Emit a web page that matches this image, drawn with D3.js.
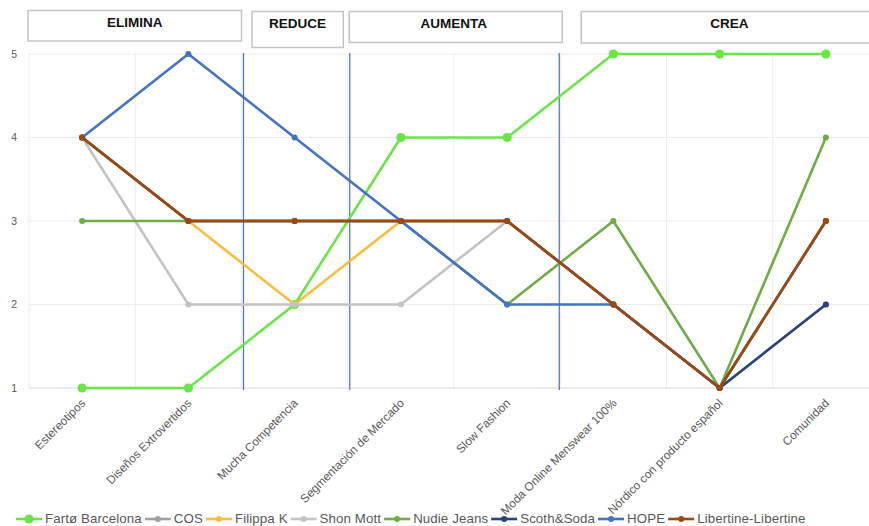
<!DOCTYPE html>
<html><head><meta charset="utf-8">
<script src="https://cdn.jsdelivr.net/npm/d3@7"></script>
<style>
html,body{margin:0;padding:0;background:#fff;}
svg{display:block;font-family:"Liberation Sans",Arial,sans-serif;}
</style></head>
<body>
<svg id="c" width="869" height="526"></svg>
<script>
// ---- data ----
const categories = ["Estereotipos","Diseños Extrovertidos","Mucha Competencia","Segmentación de Mercado","Slow Fashion","Moda Online Menswear 100%","Nórdico con producto español","Comunidad"];
const seriesNames = ["Fartø Barcelona","COS","Filippa K","Shon Mott","Nudie Jeans","Scoth&Soda","HOPE","Libertine-Libertine"];
const fartoBarcelona     = [1,1,2,4,4,5,5,5];
const cos                = [4,3,3,3,3,2,1,3];
const filippaK           = [4,3,2,3,3,2,1,3];
const shonMott           = [4,2,2,2,3,2,1,2];
const nudieJeans         = [3,3,3,3,2,3,1,4];
const scothSoda          = [4,3,3,3,3,2,1,2];
const hope               = [4,5,4,3,2,2,1,3];
const libertine          = [4,3,3,3,3,2,1,3];
const yTicks = [1,2,3,4,5];
const groupNames = ["ELIMINA","REDUCE","AUMENTA","CREA"];
const groupStart = [0,2,3,5];
const groupEnd   = [1,2,4,7];
const separatorsAfter = [1,2,4];

// ---- style ----
const colors = ["#69e645","#a0a0a0","#fbbd3e","#c3c3c3","#6fac46","#26447a","#4472c4","#9e480e"];
const markerR = [4.6,3,3,3,3,3,3,3];
const values = [fartoBarcelona,cos,filippaK,shonMott,nudieJeans,scothSoda,hope,libertine];

const svg = d3.select("#c");
const x = d3.scaleBand().domain(categories).range([29,879]).paddingInner(0).paddingOuter(0);
const y = d3.scaleLinear().domain([1,5]).range([388,54]);
const cx = c => x(c) + x.bandwidth()/2;

// gridlines
const g = svg.append("g");
g.selectAll("line.h").data(yTicks.filter(t=>t>1)).join("line")
  .attr("x1",29).attr("x2",879).attr("y1",d=>y(d)).attr("y2",d=>y(d))
  .attr("stroke","#ececec").attr("stroke-width",1);
const bounds = categories.map(c=>x(c));
g.selectAll("line.v").data(bounds).join("line")
  .attr("x1",d=>d).attr("x2",d=>d).attr("y1",y(5)).attr("y2",y(1))
  .attr("stroke","#ececec").attr("stroke-width",1);
g.append("line").attr("x1",29).attr("x2",879).attr("y1",y(1)).attr("y2",y(1))
  .attr("stroke","#d9d9d9").attr("stroke-width",1.2);

// y axis labels
const yAxis = d3.axisLeft(y).tickValues(yTicks).tickSize(0).tickPadding(0).tickFormat(d3.format("d"));
const ya = svg.append("g").attr("transform","translate(17,0)").call(yAxis);
ya.select(".domain").remove();
ya.selectAll("text").attr("font-size",10.5).attr("fill","#595959").attr("font-family","'Liberation Sans',Arial,sans-serif");

// x axis labels
const xAxis = d3.axisBottom(x).tickSize(0).tickPadding(0);
const xa = svg.append("g").attr("transform","translate(0,396)").call(xAxis);
xa.select(".domain").remove();
xa.selectAll("text")
  .attr("font-size",11.8).attr("fill","#595959").attr("font-family","'Liberation Sans',Arial,sans-serif")
  .attr("text-anchor","end").attr("dy","0.35em").attr("y",0).attr("x",0)
  .attr("transform","translate(1,5) rotate(-45)");

// separators (blue vertical lines)
const sepOff = [2,2,-1];
svg.selectAll("line.sep").data(separatorsAfter).join("line")
  .attr("x1",(d,i)=>x(categories[d])+x.bandwidth()+sepOff[i])
  .attr("x2",(d,i)=>x(categories[d])+x.bandwidth()+sepOff[i])
  .attr("y1",y(5)-1).attr("y2",y(1)+2)
  .attr("stroke","#4472c4").attr("stroke-width",1.2);

// group header boxes
const boxAdj = [[-1,0,10.5,41],[10.5,-4.5,11.5,47.5],[1.5,2,11.5,42.5],[21,-1,11.5,43]];
const hdr = svg.append("g");
groupNames.forEach((n,i)=>{
  const x0 = x(categories[groupStart[i]]) + boxAdj[i][0];
  const x1 = x(categories[groupEnd[i]]) + x.bandwidth() + boxAdj[i][1];
  hdr.append("rect").attr("x",x0).attr("y",boxAdj[i][2]).attr("width",x1-x0).attr("height",boxAdj[i][3]-boxAdj[i][2])
    .attr("fill","#fff").attr("stroke","#c4c4c4").attr("stroke-width",1.5);
  const tx = i===2 ? (x0+x1)/2-2 : (i===3 ? 729.5 : (x0+x1)/2);
  hdr.append("text").attr("x",tx).attr("y",boxAdj[i][2]+16.5).attr("text-anchor","middle")
    .attr("font-size",13.5).attr("font-weight","bold").attr("fill","#111").text(n);
});

// series
const line = d3.line().defined(d=>d[1]!=null).x(d=>cx(d[0])).y(d=>y(d[1]));
values.forEach((vals,i)=>{
  const pts = categories.map((c,j)=>[c,vals[j]]);
  const sg = svg.append("g");
  sg.append("path").datum(pts).attr("d",line).attr("fill","none")
    .attr("stroke",colors[i]).attr("stroke-width",2.6).attr("stroke-linejoin","round");
  sg.selectAll("circle").data(pts.filter(p=>p[1]!=null)).join("circle")
    .attr("cx",p=>cx(p[0])).attr("cy",p=>y(p[1])).attr("r",markerR[i]).attr("fill",colors[i]);
});

// legend
const leg = svg.append("g").attr("transform","translate(0,519)");
let lx = 16;
seriesNames.forEach((n,i)=>{
  leg.append("line").attr("x1",lx).attr("x2",lx+26).attr("y1",0).attr("y2",0)
    .attr("stroke",colors[i]).attr("stroke-width",2.6);
  leg.append("circle").attr("cx",lx+13).attr("cy",0).attr("r",markerR[i]).attr("fill",colors[i]);
  const t = leg.append("text").attr("x",lx+29).attr("y",4).attr("font-size",13.3).attr("letter-spacing",0.1).attr("fill","#595959").text(n);
  lx += 29 + t.node().getComputedTextLength() + 3;
});
</script>
</body></html>
